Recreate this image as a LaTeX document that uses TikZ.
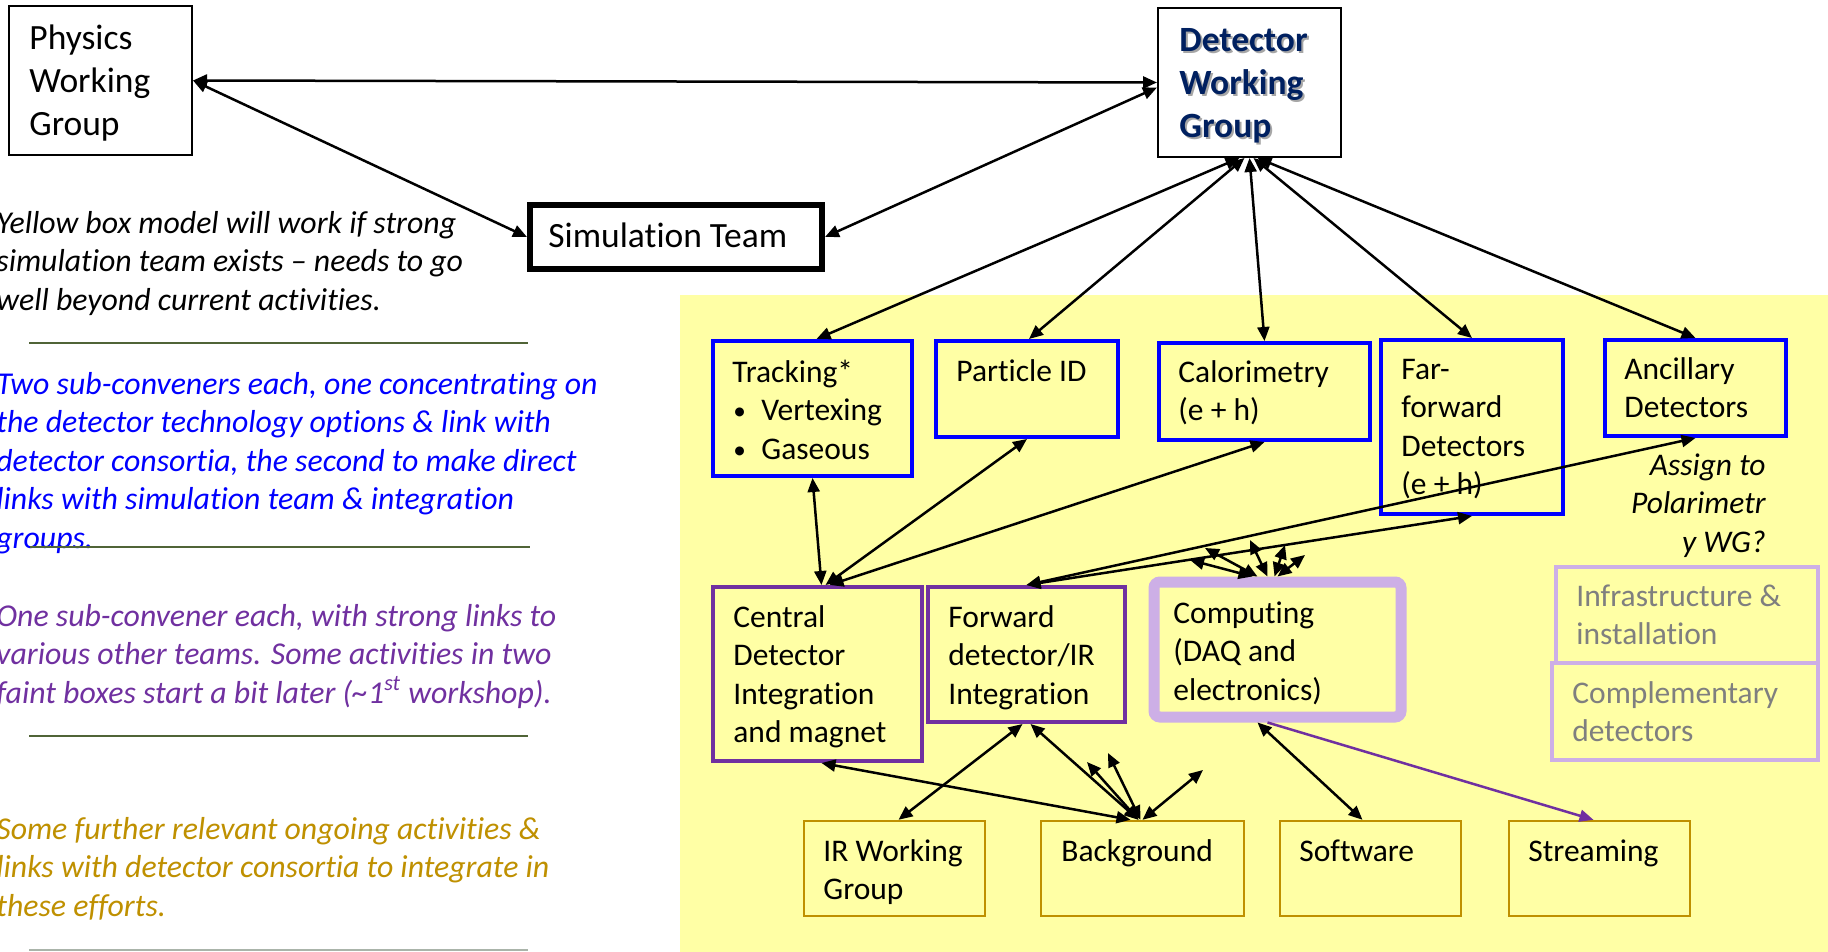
\documentclass[tikz,border=0pt]{standalone}
\usepackage{fontspec}
\setmainfont{Carlito}[Ligatures=CommonOff]
\usetikzlibrary{arrows.meta,fit,calc}
\definecolor{padyellow}{RGB}{255,255,165}
\definecolor{techblue}{RGB}{0,0,255}
\definecolor{intpurple}{RGB}{112,48,160}
\definecolor{lavender}{RGB}{205,175,230}
\definecolor{gold}{RGB}{191,144,0}
\definecolor{fadegray}{RGB}{127,127,127}
\definecolor{navy}{RGB}{0,32,96}
\definecolor{rulegreen}{RGB}{80,100,55}
\definecolor{rulegray}{RGB}{170,180,170}
\tikzset{
  framebox/.style={draw, inner sep=0pt},
  plainbox/.style={framebox, draw=black, line width=1pt, fill=white},
  simbox/.style={framebox, draw=black, line width=3pt, fill=white},
  techbox/.style={framebox, draw=techblue, line width=2pt},
  intbox/.style={framebox, draw=intpurple, line width=2pt},
  compbox/.style={framebox, draw=lavender, line width=5.5pt, rounded corners=3pt},
  faintbox/.style={framebox, draw=lavender, line width=1.7pt},
  extbox/.style={framebox, draw=gold, line width=1.2pt},
  lbl/.style={anchor=north west, inner sep=0pt, align=left, font=\fontsize{15.75}{19.25}\selectfont},
  biglbl/.style={lbl, font=\fontsize{17.75}{21.5}\selectfont},
  note/.style={lbl, font=\fontsize{15.9}{19.25}\selectfont\itshape},
  link/.style={line width=1.25pt, black, {Triangle[length=7pt,width=6pt]}-{Triangle[length=7pt,width=6pt]}},
  onelink/.style={line width=1.25pt, -{Triangle[length=7pt,width=6pt]}},
}
\newcommand{\itembullet}{\makebox[14.5pt][l]{\hspace{0.5pt}\raisebox{0.6pt}{\scalebox{0.8}{\textbullet}}}}
\begin{document}
\begin{tikzpicture}[x=0.5pt, y=-0.5pt]
\useasboundingbox (0,0) rectangle (1828,952);
\fill[white] (0,0) rectangle (1828,952);
% yellow working area
\fill[padyellow] (680,295) rectangle (1828,952);

% top level groups
\node[plainbox, fit={(9,6) (192,155)}] (phys) {};
\node[biglbl] (physt) at (29,19) {\strut Physics\\Working\\Group};
\node[plainbox, fit={(1158,8) (1341,157)}] (dwg) {};
\node[biglbl, text=black!35, font=\fontsize{17.75}{21.5}\selectfont\bfseries] (dwgshade) at (1181,23) {\strut Detector\\Working\\Group};
\node[biglbl, text=navy, font=\fontsize{17.75}{21.5}\selectfont\bfseries] (dwgt) at (1179,21) {\strut Detector\\Working\\Group};
\node[simbox, fit={(530,205) (822,269)}] (sim) {};
\node[lbl, anchor=base west, font=\fontsize{17.75}{21.5}\selectfont] (simt) at (548,248) {Simulation Team};

% detector technology boxes
\node[techbox, fit={(713,341) (912,476)}] (trk) {};
\node[lbl] (trkt) at (732,355) {\strut Tracking*\\\itembullet Vertexing\\\itembullet Gaseous};
\node[techbox, fit={(936,341) (1118,437)}] (pid) {};
\node[lbl] (pidt) at (956,354) {\strut Particle ID};
\node[techbox, fit={(1159,343) (1370,440)}] (cal) {};
\node[lbl] (calt) at (1178,355) {\strut Calorimetry\\(e + h)};
\node[techbox, fit={(1381,340) (1563,514)}] (ffd) {};
\node[lbl] (ffdt) at (1401,352) {\strut Far-\\forward\\Detectors\\(e + h)};
\node[techbox, fit={(1605,340) (1786,436)}] (anc) {};
\node[lbl] (anct) at (1624,352) {\strut Ancillary\\Detectors};
\node[note, anchor=north east, align=right, font=\fontsize{15.75}{19.25}\selectfont\itshape] (assign) at (1766,448) {\strut Assign to\\Polarimetr\\y WG?};

% integration boxes
\node[intbox, fit={(713,587) (922,761)}] (cdi) {};
\node[lbl] (cdit) at (733,600) {\strut Central\\Detector\\Integration\\and magnet};
\node[intbox, fit={(928,587) (1125,722)}] (fwd) {};
\node[lbl] (fwdt) at (948,600) {\strut Forward\\detector/IR\\Integration};
\node[compbox, fit={(1154,582) (1401,717)}] (cmp) {};
\node[lbl] (cmpt) at (1173,596) {\strut Computing\\(DAQ and\\electronics)};
\node[faintbox, fit={(1556,567) (1818,663)}] (inf) {};
\node[lbl, text=fadegray] (inft) at (1576,579) {\strut Infrastructure \&\\installation};
\node[faintbox, fit={(1552,663) (1818,760)}] (cpl) {};
\node[lbl, text=fadegray] (cplt) at (1572,676) {\strut Complementary\\detectors};

% related activities
\node[extbox, fit={(804,821) (985,916)}] (irwg) {};
\node[lbl] (irwgt) at (823,834) {\strut IR Working\\Group};
\node[extbox, fit={(1041,821) (1244,916)}] (bkg) {};
\node[lbl] (bkgt) at (1061,834) {\strut Background};
\node[extbox, fit={(1280,821) (1461,916)}] (sw) {};
\node[lbl] (swt) at (1299,834) {\strut Software};
\node[extbox, fit={(1509,821) (1690,916)}] (str) {};
\node[lbl] (strt) at (1528,834) {\strut Streaming};

% side notes
\node[note] (n1) at (-4,206) {\strut Yellow box model will work if strong\\simulation team exists -- needs to go\\well beyond current activities.};
\node[note, text=techblue] (n2) at (-4,367) {\strut Two sub-conveners each, one concentrating on\\the detector technology options \& link with\\detector consortia, the second to make direct\\links with simulation team \& integration\\groups.};
\node[note, text=intpurple] (n3) at (-4,599) {\strut One sub-convener each, with strong links to\\various other teams. Some activities in two\\faint boxes start a bit later (\textasciitilde1\textsuperscript{st} workshop).};
\node[note, text=gold] (n4) at (-4,812) {\strut Some further relevant ongoing activities \&\\links with detector consortia to integrate in\\these efforts.};
\draw[rulegreen, line width=0.8pt] (29,343) -- (528,343);
\draw[rulegreen, line width=0.8pt] (30,547) -- (530,547);
\draw[rulegreen, line width=0.8pt] (29,736) -- (528,736);
\draw[rulegray, line width=0.8pt] (29,950) -- (528,950);

% links between top level groups
\draw[link] (phys.east) -- (dwg.west);
\draw[link] (phys.east) -- (sim.west);
\draw[link] (sim.east) -- ($(dwg.west)+(0,5)$);

% detector working group to technology boxes
\draw[link] ($(dwg.south)+(-10,0)$) -- ($(trk.north)+(4,0)$);
\draw[link] ($(dwg.south)+(-5,0)$) -- ($(pid.north)+(2,0)$);
\draw[link] (dwg.south) -- (cal.north);
\draw[link] ($(dwg.south)+(4,0)$) -- (ffd.north);
\draw[link] ($(dwg.south)+(8,0)$) -- (anc.north);

% technology boxes to integration
\draw[link] (trk.south) -- ($(cdi.north)+(4,0)$);
\draw[link] (pid.south) -- ($(cdi.north)+(8,0)$);
\draw[link] (cal.south) -- ($(cdi.north)+(12,0)$);
\draw[link] (fwd.north) -- (anc.south);
\draw[link] (fwd.north) -- (ffd.south);

% open links from computing
\coordinate (ca) at (1190,560);
\coordinate (cb) at (1205,548);
\coordinate (cc) at (1250,540);
\coordinate (cd) at (1285,545);
\coordinate (ce) at (1305,555);
\draw[link] ($(cmp.north)+(-25,0)$) -- (ca);
\draw[link] ($(cmp.north)+(-20,0)$) -- (cb);
\draw[link] ($(cmp.north)+(-10,0)$) -- (cc);
\draw[link] ($(cmp.north)+(-3,0)$) -- (cd);
\draw[link] (cmp.north) -- (ce);

% links to related activities
\draw[link] ($(fwd.south)+(-4,0)$) -- ($(irwg.north)+(4,0)$);
\draw[link] ($(fwd.south)+(4,0)$) -- ($(bkg.north)+(-4,0)$);
\draw[link] ($(cdi.south)+(4,0)$) -- ($(bkg.north)+(-12,0)$);
\coordinate (ba) at (1087,762);
\coordinate (bb) at (1108,753);
\coordinate (bc) at (1203,770);
\draw[link] ($(bkg.north)+(-4,0)$) -- (ba);
\draw[link] ($(bkg.north)+(-2,0)$) -- (bb);
\draw[link] (bkg.north) -- (bc);
\draw[link] ($(cmp.south)+(-20,0)$) -- ($(sw.north)+(-8,0)$);
\draw[onelink, intpurple] ($(cmp.south)+(-10,0)$) -- ($(str.north)+(-6,0)$);
\end{tikzpicture}
\end{document}
